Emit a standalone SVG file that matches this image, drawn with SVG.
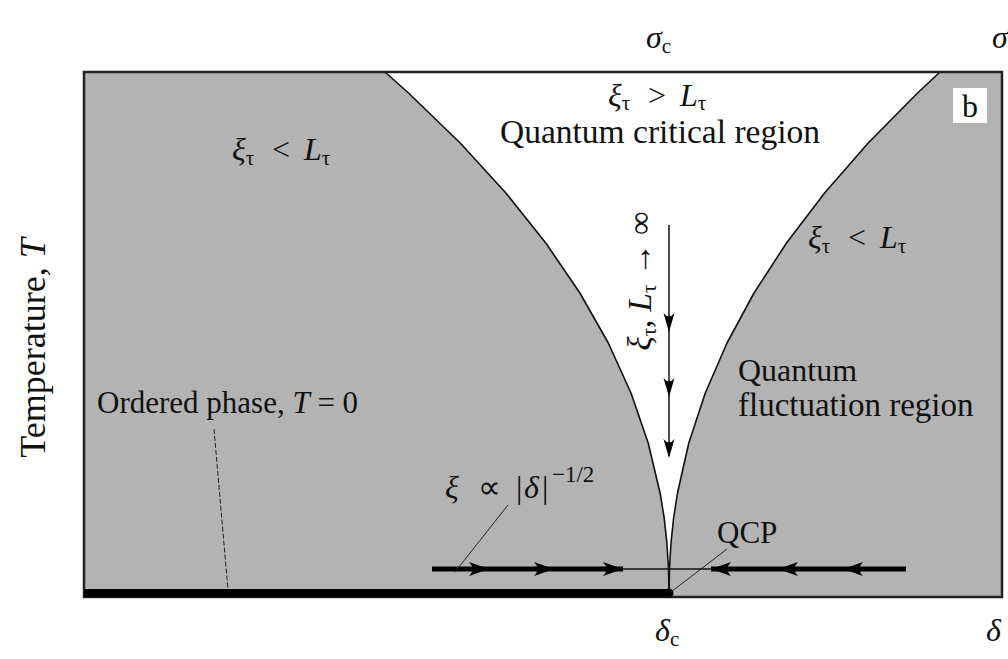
<svg xmlns="http://www.w3.org/2000/svg" width="1008" height="659" viewBox="0 0 1008 659">
<style>
text{font-family:"Liberation Serif","Times New Roman",serif;fill:#111;}
.t{font-size:32px;}
.m{font-size:32px;font-style:italic;}
.sub{font-size:21px;font-style:normal;}
.up{font-style:normal;}
.curve{fill:none;stroke:#111;stroke-width:1.6;stroke-linejoin:round;}
.thin{stroke:#111;stroke-width:1.5;fill:none;}
.lead{stroke:#222;stroke-width:1;fill:none;}
</style>
<defs>
<path id="ah" d="M0,0 L-20,-7 Q-13,0 -20,7 Z" fill="#000"/>
<path id="avh" d="M0,0 L-19,-5.5 Q-12,0 -19,5.5 Z" fill="#000"/>
</defs>

<g id="background">
<rect x="84" y="72" width="918" height="525" fill="#b3b3b3"/>
<polygon id="critical-region" fill="#fff" points="385,72 408.5,93 460.2,143 505.9,193 545.8,243 579.9,293 608.3,343 631,393 648.2,443 660.1,493 664.2,518 666.9,543 668.5,568 669,593 669.5,568 671,543 673.6,518 677.5,493 688.8,443 705.3,393 727,343 754,293 786.5,243 824.6,193 868.2,143 917.6,93 940,72"/>
<polyline class="curve" points="385,72 408.5,93 460.2,143 505.9,193 545.8,243 579.9,293 608.3,343 631,393 648.2,443 660.1,493 664.2,518 666.9,543 668.5,568 669,593"/>
<polyline class="curve" points="669,593 669.5,568 671,543 673.6,518 677.5,493 688.8,443 705.3,393 727,343 754,293 786.5,243 824.6,193 868.2,143 917.6,93 940,72"/>
<rect x="84" y="72" width="918" height="525" fill="none" stroke="#222" stroke-width="2.5"/>
<rect x="84" y="589" width="585" height="8" fill="#000"/>
<circle cx="669" cy="593" r="4.5" fill="#000"/>
</g>

<g id="connectors">
<line x1="432" y1="569" x2="623" y2="569" stroke="#000" stroke-width="5"/>
<line x1="623" y1="569" x2="711" y2="569" class="thin"/>
<line x1="711" y1="569" x2="906" y2="569" stroke="#000" stroke-width="5"/>
<use href="#ah" transform="translate(489,569)"/>
<use href="#ah" transform="translate(554,569)"/>
<use href="#ah" transform="translate(623,569)"/>
<use href="#ah" transform="translate(711,569) rotate(180)"/>
<use href="#ah" transform="translate(778,569) rotate(180)"/>
<use href="#ah" transform="translate(843,569) rotate(180)"/>
<line x1="669" y1="225" x2="669" y2="456" class="thin"/>
<use href="#avh" transform="translate(669,332) rotate(90)"/>
<use href="#avh" transform="translate(669,397) rotate(90)"/>
<use href="#avh" transform="translate(669,458) rotate(90)"/>
<line class="lead" x1="508" y1="505" x2="455" y2="572"/>
<line class="lead" x1="727" y1="549" x2="671" y2="592"/>
<line class="lead" x1="214" y1="429" x2="228" y2="590" stroke-dasharray="5 2"/>
</g>

<g id="label-sigma-c"><text class="m" x="646" y="48">σ<tspan class="sub" dy="5">c</tspan></text></g>
<g id="label-sigma"><text class="m" x="992" y="48">σ</text></g>
<g id="label-b">
<rect x="953" y="88" width="34" height="35" fill="#fff"/>
<text class="t" x="970" y="117" text-anchor="middle">b</text>
</g>
<g id="label-critical">
<text class="m" x="608" y="106">ξ<tspan class="sub" dy="4">τ</tspan><tspan class="up" x="648" dy="-4">&gt;</tspan><tspan x="680">L</tspan><tspan class="sub" dy="4">τ</tspan></text>
<text class="t" x="660" y="143" text-anchor="middle" style="font-size:33.5px">Quantum critical region</text>
</g>
<g id="label-left">
<text class="m" x="232" y="160">ξ<tspan class="sub" dy="5">τ</tspan><tspan class="up" x="272" dy="-5">&lt;</tspan><tspan x="304">L</tspan><tspan class="sub" dy="5">τ</tspan></text>
</g>
<g id="label-right">
<text class="m" x="808" y="248">ξ<tspan class="sub" dy="5">τ</tspan><tspan class="up" x="848" dy="-5">&lt;</tspan><tspan x="880">L</tspan><tspan class="sub" dy="5">τ</tspan></text>
</g>
<g id="label-fluct">
<text class="t" x="738" y="381">Quantum</text>
<text class="t" x="738" y="416" style="font-size:33px">fluctuation region</text>
</g>
<g id="label-ordered">
<text class="t" x="97" y="413" style="font-size:31px">Ordered phase, <tspan font-style="italic">T</tspan> = 0</text>
</g>
<g id="label-xi">
<text class="m" x="445" y="498">ξ<tspan class="up" x="478">∝</tspan><tspan class="up" x="516">|</tspan><tspan x="524">δ</tspan><tspan class="up" x="542">|</tspan><tspan class="up" x="552" dy="-16" style="font-size:23px">−1/2</tspan></text>
</g>
<g id="label-qcp"><text class="t" x="717" y="543" style="font-size:31px">QCP</text></g>
<g id="label-limit">
<text class="m" transform="translate(651,281) rotate(-90)" text-anchor="middle" style="font-size:33px">ξ<tspan class="sub" dy="5">τ</tspan><tspan class="up" dy="-5">, </tspan>L<tspan class="sub" dy="5">τ</tspan><tspan class="up" dy="-5"> → ∞</tspan></text>
</g>
<g id="label-deltac"><text class="m" x="655" y="641">δ<tspan class="sub" dy="5">c</tspan></text></g>
<g id="label-delta"><text class="m" x="986" y="641">δ</text></g>
<g id="label-temp">
<text class="t" transform="translate(45,348) rotate(-90)" text-anchor="middle" style="font-size:36px">Temperature, <tspan font-style="italic">T</tspan></text>
</g>
</svg>
